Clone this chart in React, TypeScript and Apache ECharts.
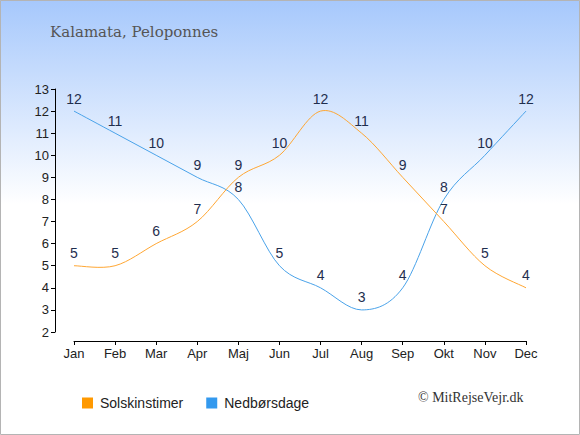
import React, { useEffect, useRef } from "react";
import * as echarts from "echarts";

const months = ["Jan", "Feb", "Mar", "Apr", "Maj", "Jun", "Jul", "Aug", "Sep", "Okt", "Nov", "Dec"];
const sunHours = [5, 5, 6, 7, 9, 10, 12, 11, 9, 7, 5, 4];
const rainDays = [12, 11, 10, 9, 8, 5, 4, 3, 4, 8, 10, 12];
const yTicks = { min: 2, max: 13, interval: 1 };
const titleText = "Kalamata, Peloponnes";
const sunName = "Solskinstimer";
const rainName = "Nedbørsdage";
const copyright = "© MitRejseVejr.dk";

const FONT = "Liberation Sans, Arial, sans-serif";

function curveRenderer(values: number[], color: string) {
  return (_params: any, api: any) => {
    const pts = values.map((v, i) => api.coord([i, v]));
    const n = pts.length;
    const children: any[] = [];
    for (let i = 0; i < n - 1; i++) {
      const p0 = pts[Math.max(0, i - 1)];
      const p1 = pts[i];
      const p2 = pts[i + 1];
      const p3 = pts[Math.min(n - 1, i + 2)];
      children.push({
        type: "bezierCurve",
        shape: {
          x1: p1[0],
          y1: p1[1],
          cpx1: p1[0] + (p2[0] - p0[0]) / 6,
          cpy1: p1[1] + (p2[1] - p0[1]) / 6,
          cpx2: p2[0] - (p3[0] - p1[0]) / 6,
          cpy2: p2[1] - (p3[1] - p1[1]) / 6,
          x2: p2[0],
          y2: p2[1],
        },
        style: { stroke: color, lineWidth: 1, fill: "none" },
      });
    }
    return { type: "group", children };
  };
}

export default function App() {
  const ref = useRef<HTMLDivElement>(null);
  useEffect(() => {
    document.body.style.margin = "0";
    const chart = echarts.init(ref.current!, null, { renderer: "svg" });
    const labelStyle = {
      show: true,
      position: "top" as const,
      distance: 5,
      fontSize: 14,
      color: "#1f2e4e",
      fontFamily: FONT,
    };
    chart.setOption({
      animation: false,
      backgroundColor: new echarts.graphic.LinearGradient(0, 0, 0, 1, [
        { offset: 0, color: "#a6c8fc" },
        { offset: 0.47, color: "#ffffff" },
        { offset: 1, color: "#ffffff" },
      ]),
      grid: { left: 74, right: 54, top: 89, bottom: 103 },
      xAxis: {
        type: "category",
        data: months,
        boundaryGap: false,
        offset: 9,
        axisLine: { lineStyle: { color: "#000", width: 1 } },
        axisTick: { show: true, length: 4, lineStyle: { color: "#000" } },
        axisLabel: { color: "#222", fontSize: 13, margin: 6, fontFamily: FONT },
        splitLine: { show: false },
      },
      yAxis: {
        type: "value",
        min: yTicks.min,
        max: yTicks.max,
        interval: yTicks.interval,
        offset: 19,
        axisLine: { show: true, lineStyle: { color: "#000", width: 1 } },
        axisTick: { show: true, length: 4, lineStyle: { color: "#000" } },
        axisLabel: { color: "#222", fontSize: 13, margin: 6, fontFamily: FONT },
        splitLine: { show: false },
      },
      legend: {
        left: 77,
        top: 391,
        itemWidth: 11,
        itemHeight: 11,
        itemGap: 23,
        icon: "rect",
        textStyle: { fontSize: 14, color: "#222", padding: [0, 0, 0, 2], fontFamily: FONT },
        data: [
          { name: sunName, itemStyle: { color: "#ff9900", opacity: 1 } },
          { name: rainName, itemStyle: { color: "#3399ee", opacity: 1 } },
        ],
      },
      graphic: [
        {
          type: "rect",
          shape: { x: 0.5, y: 0.5, width: 579, height: 434 },
          style: { fill: "none", stroke: "#b4b4b4", lineWidth: 1 },
          silent: true,
        },
        {
          type: "text",
          left: 50,
          top: 24,
          style: { text: titleText, fill: "#555", fontSize: 15, fontFamily: "DejaVu Serif, serif" },
        },
        {
          type: "text",
          left: 418,
          top: 390,
          style: { text: copyright, fill: "#333", fontSize: 14, fontFamily: "Liberation Serif, serif" },
        },
      ],
      series: [
        {
          name: "sunCurve",
          type: "custom",
          silent: true,
          data: [[0, sunHours[0]]],
          renderItem: curveRenderer(sunHours, "#ffa733"),
          z: 3,
        },
        {
          name: "rainCurve",
          type: "custom",
          silent: true,
          data: [[0, rainDays[0]]],
          renderItem: curveRenderer(rainDays, "#4aa3ea"),
          z: 2,
        },
        {
          name: sunName,
          type: "line",
          data: sunHours,
          symbol: "circle",
          symbolSize: 1,
          itemStyle: { color: "rgba(0,0,0,0)" },
          lineStyle: { width: 0, opacity: 0 },
          label: labelStyle,
          z: 4,
        },
        {
          name: rainName,
          type: "line",
          data: rainDays,
          symbol: "circle",
          symbolSize: 1,
          itemStyle: { color: "rgba(0,0,0,0)" },
          lineStyle: { width: 0, opacity: 0 },
          label: labelStyle,
          z: 4,
        },
      ],
    });
    return () => chart.dispose();
  }, []);
  return <div ref={ref} style={{ width: 580, height: 435 }} />;
}
